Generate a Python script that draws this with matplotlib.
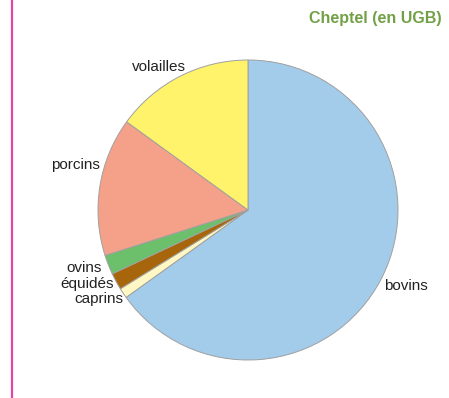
import matplotlib
matplotlib.use("Agg")
import matplotlib.pyplot as plt

# Cheptel (en UGB) - shares
categories = ["bovins", "caprins", "équidés", "ovins", "porcins", "volailles"]
values = [65.1, 1.1, 1.8, 2.1, 14.9, 15.0]
colors = ["#a3cbea", "#fff8c4", "#a8660c", "#6cc06c", "#f5a088", "#fff36b"]

# label anchors in pixel coords (x, y from top), and alignment
label_pos = {
    "bovins": (384, 286, "left"),
    "caprins": (123, 299, "right"),
    "équidés": (114, 284, "right"),
    "ovins": (102, 268, "right"),
    "porcins": (100, 165, "right"),
    "volailles": (186, 67, "right"),
}

W, H = 449, 398
plt.rcParams['font.family'] = ['Liberation Sans', 'DejaVu Sans']

fig = plt.figure(figsize=(W / 100, H / 100), dpi=100)
ax = fig.add_axes([0, 0, 1, 1])
ax.set_xlim(0, W)
ax.set_ylim(0, H)
ax.axis("off")

ax.pie(values, colors=colors, center=(248, H - 210), radius=150,
       startangle=90, counterclock=False,
       wedgeprops=dict(edgecolor="#a0a0a0", linewidth=0.7))
ax.set_xlim(0, W)
ax.set_ylim(0, H)
ax.set_aspect("equal")

for name in categories:
    x, y, ha = label_pos[name]
    ax.text(x, H - y, name, ha=ha, va="center", fontsize=11, color="#222222")

# title
ax.text(442, H - 19, "Cheptel (en UGB)", ha="right", va="center",
        fontsize=11.5, fontweight="bold", color="#72a046")

# pink margin rule
ax.plot([12, 12], [0, H], color="#e8449c", linewidth=1.6, solid_capstyle="butt")

fig.savefig("out.png", dpi=100)
